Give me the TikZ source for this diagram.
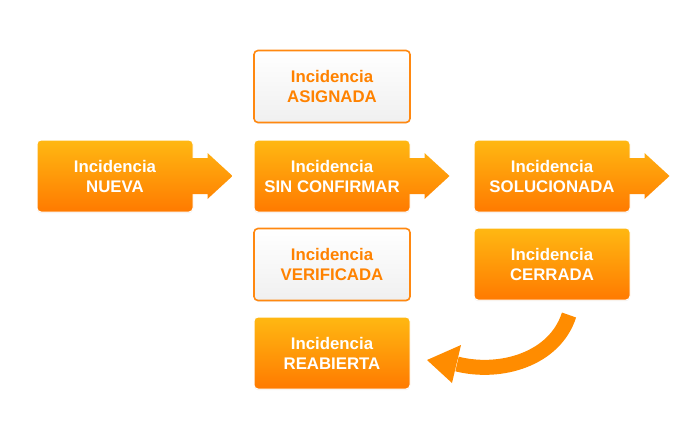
\documentclass[tikz,border=0pt]{standalone}
\usepackage{fontspec}
\setmainfont{Liberation Sans}
\usetikzlibrary{shadows}
\definecolor{otop}{RGB}{255,184,18}
\definecolor{obot}{RGB}{255,122,0}
\definecolor{oline}{RGB}{255,136,16}
\definecolor{otext}{RGB}{255,130,0}
\definecolor{carrow}{RGB}{255,140,0}
\tikzset{
  base/.style={rectangle, rounded corners=4pt, minimum width=156pt, minimum height=72pt,
    align=center, font=\fontsize{16.8}{20}\selectfont\bfseries, inner sep=0pt},
  filledbox/.style={base, top color=otop, bottom color=obot, draw=white, line width=1pt,
    text=white, drop shadow={shadow xshift=0pt, shadow yshift=-1pt, opacity=0.15}},
  outlinebox/.style={base, top color=white, bottom color=black!6, draw=oline, line width=1.6pt,
    text=otext, drop shadow={shadow xshift=0pt, shadow yshift=-1pt, opacity=0.12}},
  boxarrow/.style={top color=otop!82!obot, bottom color=otop!18!obot},
}
\newcommand{\boxarr}[1]{%
  \shade[boxarrow] (#1.east) ++(-6,-18) -- ++(20,0) -- ++(0,-5) -- ++(25,23) -- ++(-25,23) -- ++(0,-5) -- ++(-20,0) -- cycle;}
\begin{document}
\begin{tikzpicture}[x=1pt,y=-1pt]
\useasboundingbox (0,0) rectangle (700,434);
\node[filledbox] (nueva) at (115,176) {Incidencia\\NUEVA};
\node[filledbox] (sinconf) at (332,176) {Incidencia\\SIN CONFIRMAR};
\node[filledbox] (soluc) at (552,176) {Incidencia\\SOLUCIONADA};
\node[outlinebox] (asign) at (332,86.5) {Incidencia\\ASIGNADA};
\node[outlinebox] (verif) at (332,264.5) {Incidencia\\VERIFICADA};
\node[filledbox] (cerr) at (552,264) {Incidencia\\CERRADA};
\node[filledbox] (reab) at (332,353) {Incidencia\\REABIERTA};
\boxarr{nueva}
\boxarr{sinconf}
\boxarr{soluc}
\coordinate (ct) at (569,315);
\coordinate (ch) at (457,364);
\coordinate (tip) at (427,360);
\draw[line width=15pt, carrow] (ct) .. controls (555,359) and (501,375) .. (ch);
\fill[carrow] (tip) -- (461,345) -- (452,383) -- cycle;
\end{tikzpicture}
\end{document}
